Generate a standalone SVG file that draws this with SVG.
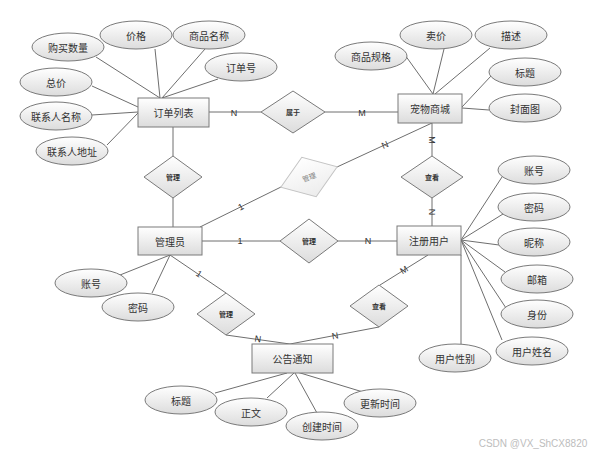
<svg xmlns="http://www.w3.org/2000/svg" width="600" height="454" viewBox="0 0 600 454">
<defs>
<linearGradient id="g" x1="0" y1="0" x2="0" y2="1">
<stop offset="0" stop-color="#ffffff"/>
<stop offset="1" stop-color="#dcdcdc"/>
</linearGradient>
<linearGradient id="gf" x1="0" y1="0" x2="0" y2="1">
<stop offset="0" stop-color="#ffffff"/>
<stop offset="1" stop-color="#ececec"/>
</linearGradient>
</defs>
<style>
.s{fill:url(#g);stroke:#7a7a7a;stroke-width:1}
.t{font-family:"Noto Sans CJK SC","Liberation Sans",sans-serif;font-size:10px;fill:#333;text-anchor:middle;dominant-baseline:central}
.d{font-family:"Noto Sans CJK SC","Liberation Sans",sans-serif;font-size:7px;fill:#333;text-anchor:middle;dominant-baseline:central;font-weight:bold}
.df{font-family:"Noto Sans CJK SC","Liberation Sans",sans-serif;font-size:7px;fill:#808080;text-anchor:middle;dominant-baseline:central}
.l{font-family:"Liberation Sans",sans-serif;font-size:9px;fill:#333;text-anchor:middle;dominant-baseline:central}
.c line{stroke:#6e6e6e;stroke-width:1}
</style>
<rect width="600" height="454" fill="#ffffff"/>
<g id="connectors" class="c">
<line x1="209" y1="112" x2="261" y2="112"/>
<line x1="325" y1="112" x2="398" y2="112"/>
<line x1="173" y1="127" x2="173" y2="156"/>
<line x1="173" y1="198" x2="173" y2="227"/>
<line x1="200" y1="227" x2="281" y2="187"/>
<line x1="337" y1="167" x2="432" y2="123"/>
<line x1="202" y1="241" x2="280" y2="241"/>
<line x1="338" y1="241" x2="397" y2="241"/>
<line x1="432" y1="123" x2="432" y2="156"/>
<line x1="432" y1="198" x2="432" y2="226"/>
<line x1="170" y1="255" x2="226" y2="293"/>
<line x1="226" y1="335" x2="290" y2="344"/>
<line x1="379" y1="327" x2="290" y2="344"/>
<line x1="380" y1="285" x2="428" y2="255"/>
<line x1="96" y1="57" x2="160" y2="98"/>
<line x1="155" y1="49" x2="160" y2="98"/>
<line x1="205" y1="49" x2="162" y2="98"/>
<line x1="218" y1="79" x2="162" y2="98"/>
<line x1="92" y1="86" x2="138" y2="107"/>
<line x1="92" y1="115" x2="138" y2="112"/>
<line x1="107" y1="145" x2="138" y2="113"/>
<line x1="405" y1="55" x2="433" y2="94"/>
<line x1="444" y1="49" x2="433" y2="94"/>
<line x1="490" y1="48" x2="435" y2="94"/>
<line x1="491" y1="76" x2="462" y2="107"/>
<line x1="489" y1="110" x2="462" y2="108"/>
<line x1="120" y1="275" x2="170" y2="255"/>
<line x1="152" y1="293" x2="170" y2="255"/>
<line x1="461" y1="240" x2="502" y2="177"/>
<line x1="461" y1="240" x2="503" y2="214"/>
<line x1="461" y1="240" x2="499" y2="245"/>
<line x1="461" y1="240" x2="505" y2="272"/>
<line x1="461" y1="240" x2="506" y2="308"/>
<line x1="461" y1="240" x2="502" y2="340"/>
<line x1="461" y1="255" x2="461" y2="344"/>
<line x1="215" y1="393" x2="287" y2="373"/>
<line x1="267" y1="398" x2="294" y2="373"/>
<line x1="317" y1="413" x2="295" y2="373"/>
<line x1="363" y1="392" x2="297" y2="372"/>
<text class="l" x="234" y="113">N</text>
<text class="l" x="362" y="113">M</text>
<text class="l" x="241" y="207" transform="rotate(-27 241 207)" font-size="8">1</text>
<text class="l" x="385" y="145" transform="rotate(-24 385 145)" font-size="8">N</text>
<text class="l" x="240" y="241">1</text>
<text class="l" x="368" y="241">N</text>
<text class="l" x="432" y="140" transform="rotate(90 432 140)">M</text>
<text class="l" x="432" y="212" transform="rotate(90 432 212)">N</text>
<text class="l" x="199" y="274" transform="rotate(34 199 274)" font-size="7">1</text>
<text class="l" x="258" y="339" transform="rotate(8 258 339)" font-size="7">N</text>
<text class="l" x="335" y="336" transform="rotate(-11 335 336)" font-size="7">N</text>
<text class="l" x="404" y="270" transform="rotate(-32 404 270)" font-size="7">M</text>
</g>
<g id="e-dingdan"><rect class="s" x="138" y="98" width="71" height="29"/><text class="t" x="173.5" y="112.5">订单列表</text></g>
<g id="e-chongwu"><rect class="s" x="398" y="94" width="64" height="29"/><text class="t" x="430" y="108.5">宠物商城</text></g>
<g id="e-guanliyuan"><rect class="s" x="138" y="227" width="64" height="28"/><text class="t" x="170" y="241">管理员</text></g>
<g id="e-zhuce"><rect class="s" x="397" y="226" width="64" height="29"/><text class="t" x="429" y="240.5">注册用户</text></g>
<g id="e-gonggao"><rect class="s" x="252" y="344" width="81" height="29"/><text class="t" x="292.5" y="358.5">公告通知</text></g>
<g id="r-shuyu"><polygon class="s" points="261,112 293,91 325,112 293,133"/><text class="d" x="293" y="112">属于</text></g>
<g id="r-guanli1"><polygon class="s" points="144,177 173,156 202,177 173,198"/><text class="d" x="173" y="177">管理</text></g>
<g id="r-chakan1"><polygon class="s" points="401,177 432,156 463,177 432,198"/><text class="d" x="432" y="177">查看</text></g>
<g id="r-guanli2"><polygon class="s" points="280,241 309,219 338,241 309,263"/><text class="d" x="309" y="241">管理</text></g>
<g id="r-guanli3" transform="rotate(-20 309 177)"><polygon points="279,177 309,156 339,177 309,198" fill="url(#gf)" stroke="#c4c4c4"/><text class="df" x="309" y="177">管理</text></g>
<g id="r-guanli4"><polygon class="s" points="197,314 226,293 255,314 226,335"/><text class="d" x="226" y="314">管理</text></g>
<g id="r-chakan2"><polygon class="s" points="350,306 379,285 408,306 379,327"/><text class="d" x="379" y="306">查看</text></g>
<g id="a-goumai"><ellipse class="s" cx="68" cy="47" rx="36" ry="14"/><text class="t" x="68" y="47">购买数量</text></g>
<g id="a-jiage"><ellipse class="s" cx="136" cy="35" rx="36" ry="14"/><text class="t" x="136" y="35">价格</text></g>
<g id="a-shangpinmc"><ellipse class="s" cx="209" cy="35" rx="36" ry="14"/><text class="t" x="209" y="35">商品名称</text></g>
<g id="a-dingdanhao"><ellipse class="s" cx="241" cy="67" rx="36" ry="14"/><text class="t" x="241" y="67">订单号</text></g>
<g id="a-zongjia"><ellipse class="s" cx="56" cy="82" rx="36" ry="14"/><text class="t" x="56" y="82">总价</text></g>
<g id="a-lxrmc"><ellipse class="s" cx="56" cy="116" rx="36" ry="14"/><text class="t" x="56" y="116">联系人名称</text></g>
<g id="a-lxrdz"><ellipse class="s" cx="72" cy="151" rx="36" ry="14"/><text class="t" x="72" y="151">联系人地址</text></g>
<g id="a-spgg"><ellipse class="s" cx="371" cy="56" rx="36" ry="14"/><text class="t" x="371" y="56">商品规格</text></g>
<g id="a-maijia"><ellipse class="s" cx="436" cy="35" rx="36" ry="14"/><text class="t" x="436" y="35">卖价</text></g>
<g id="a-miaoshu"><ellipse class="s" cx="511" cy="35" rx="36" ry="14"/><text class="t" x="511" y="35">描述</text></g>
<g id="a-biaoti1"><ellipse class="s" cx="525" cy="72" rx="36" ry="14"/><text class="t" x="525" y="72">标题</text></g>
<g id="a-fengmian"><ellipse class="s" cx="525" cy="108" rx="36" ry="14"/><text class="t" x="525" y="108">封面图</text></g>
<g id="a-zhanghao1"><ellipse class="s" cx="91" cy="283" rx="36" ry="14"/><text class="t" x="91" y="283">账号</text></g>
<g id="a-mima1"><ellipse class="s" cx="138" cy="307" rx="36" ry="14"/><text class="t" x="138" y="307">密码</text></g>
<g id="a-zhanghao2"><ellipse class="s" cx="534" cy="170" rx="36" ry="14"/><text class="t" x="534" y="170">账号</text></g>
<g id="a-mima2"><ellipse class="s" cx="534" cy="207" rx="36" ry="14"/><text class="t" x="534" y="207">密码</text></g>
<g id="a-nicheng"><ellipse class="s" cx="534" cy="242" rx="36" ry="14"/><text class="t" x="534" y="242">昵称</text></g>
<g id="a-youxiang"><ellipse class="s" cx="537" cy="279" rx="36" ry="14"/><text class="t" x="537" y="279">邮箱</text></g>
<g id="a-shenfen"><ellipse class="s" cx="537" cy="314" rx="36" ry="14"/><text class="t" x="537" y="314">身份</text></g>
<g id="a-xingming"><ellipse class="s" cx="532" cy="351" rx="36" ry="14"/><text class="t" x="532" y="351">用户姓名</text></g>
<g id="a-xingbie"><ellipse class="s" cx="455" cy="358" rx="36" ry="14"/><text class="t" x="455" y="358">用户性别</text></g>
<g id="a-biaoti2"><ellipse class="s" cx="181" cy="400" rx="36" ry="14"/><text class="t" x="181" y="400">标题</text></g>
<g id="a-zhengwen"><ellipse class="s" cx="251" cy="412" rx="36" ry="14"/><text class="t" x="251" y="412">正文</text></g>
<g id="a-chuangjian"><ellipse class="s" cx="322" cy="426" rx="36" ry="14"/><text class="t" x="322" y="426">创建时间</text></g>
<g id="a-gengxin"><ellipse class="s" cx="380" cy="403" rx="36" ry="14"/><text class="t" x="380" y="403">更新时间</text></g>
<text x="533" y="443" font-family="Liberation Sans, sans-serif" font-size="10" fill="#bdbdbd" text-anchor="middle" dominant-baseline="central">CSDN @VX_ShCX8820</text>
</svg>
